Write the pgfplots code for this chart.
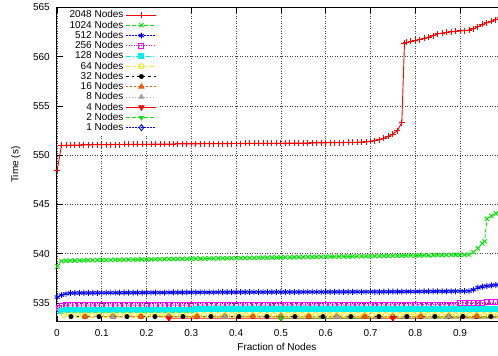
\documentclass[border=0pt]{standalone}
\usepackage{pgfplots}
\usepackage{pgfplotstable}
\pgfplotsset{compat=1.18}
\usepackage{fontspec}
\setmainfont{Liberation Sans}
\definecolor{gpred}{RGB}{255,0,0}
\definecolor{gpgreen}{RGB}{0,230,0}
\definecolor{gpblue}{RGB}{0,0,255}
\definecolor{gpmag}{RGB}{255,0,255}
\definecolor{gpcyan}{RGB}{0,240,240}
\definecolor{gpyellow}{RGB}{235,235,0}
\definecolor{gporange}{RGB}{255,90,0}
\definecolor{gpgray}{RGB}{160,160,160}

\pgfplotstableread[row sep=\\]{x y\\
0.0005 548.5\\ 0.01 551.00\\ 0.02 551.01\\ 0.03 551.02\\ 0.04 551.03\\ 0.05 551.04\\ 0.06 551.05\\ 0.07 551.05\\ 0.08 551.06\\ 0.09 551.07\\
0.10 551.07\\ 0.11 551.08\\ 0.12 551.08\\ 0.13 551.09\\ 0.14 551.09\\ 0.15 551.10\\ 0.16 551.10\\ 0.17 551.11\\ 0.18 551.11\\ 0.19 551.12\\
0.20 551.12\\ 0.21 551.12\\ 0.22 551.13\\ 0.23 551.13\\ 0.24 551.14\\ 0.25 551.14\\ 0.26 551.14\\ 0.27 551.15\\ 0.28 551.15\\ 0.29 551.15\\
0.30 551.16\\ 0.31 551.16\\ 0.32 551.16\\ 0.33 551.17\\ 0.34 551.17\\ 0.35 551.17\\ 0.36 551.18\\ 0.37 551.18\\ 0.38 551.18\\ 0.39 551.19\\
0.40 551.19\\ 0.41 551.19\\ 0.42 551.20\\ 0.43 551.20\\ 0.44 551.20\\ 0.45 551.21\\ 0.46 551.21\\ 0.47 551.21\\ 0.48 551.22\\ 0.49 551.22\\
0.50 551.22\\ 0.51 551.23\\ 0.52 551.23\\ 0.53 551.23\\ 0.54 551.24\\ 0.55 551.24\\ 0.56 551.24\\ 0.57 551.25\\ 0.58 551.25\\ 0.59 551.26\\
0.60 551.26\\ 0.61 551.27\\ 0.62 551.27\\ 0.63 551.28\\ 0.64 551.29\\ 0.65 551.30\\ 0.66 551.31\\ 0.67 551.32\\ 0.68 551.34\\ 0.69 551.36\\
0.70 551.40\\ 0.71 551.47\\ 0.72 551.58\\ 0.73 551.72\\ 0.74 551.92\\ 0.75 552.15\\ 0.76 552.50\\ 0.77 553.30\\ 0.776 561.40\\ 0.78 561.45\\
0.79 561.55\\ 0.80 561.65\\ 0.81 561.75\\ 0.82 561.88\\ 0.83 562.00\\ 0.84 562.15\\ 0.85 562.32\\ 0.86 562.40\\ 0.87 562.48\\ 0.88 562.53\\
0.89 562.58\\ 0.90 562.62\\ 0.91 562.65\\ 0.92 562.70\\ 0.93 562.85\\ 0.94 563.05\\ 0.95 563.28\\ 0.96 563.45\\ 0.97 563.60\\ 0.98 563.78\\
0.99 563.95\\ 1.00 564.10\\
}\tA

\pgfplotstableread[row sep=\\]{x y\\
0.001 538.70\\ 0.01 539.25\\ 0.02 539.28\\ 0.03 539.30\\ 0.04 539.31\\ 0.05 539.32\\ 0.06 539.33\\ 0.07 539.34\\ 0.08 539.34\\ 0.09 539.35\\
0.10 539.36\\ 0.11 539.36\\ 0.12 539.37\\ 0.13 539.38\\ 0.14 539.38\\ 0.15 539.39\\ 0.16 539.40\\ 0.17 539.40\\ 0.18 539.41\\ 0.19 539.42\\
0.20 539.42\\ 0.21 539.43\\ 0.22 539.44\\ 0.23 539.44\\ 0.24 539.45\\ 0.25 539.46\\ 0.26 539.46\\ 0.27 539.47\\ 0.28 539.48\\ 0.29 539.48\\
0.30 539.49\\ 0.31 539.50\\ 0.32 539.50\\ 0.33 539.51\\ 0.34 539.52\\ 0.35 539.52\\ 0.36 539.53\\ 0.37 539.54\\ 0.38 539.54\\ 0.39 539.55\\
0.40 539.56\\ 0.41 539.56\\ 0.42 539.57\\ 0.43 539.58\\ 0.44 539.58\\ 0.45 539.59\\ 0.46 539.60\\ 0.47 539.60\\ 0.48 539.61\\ 0.49 539.62\\
0.50 539.62\\ 0.51 539.63\\ 0.52 539.64\\ 0.53 539.64\\ 0.54 539.65\\ 0.55 539.66\\ 0.56 539.66\\ 0.57 539.67\\ 0.58 539.68\\ 0.59 539.68\\
0.60 539.69\\ 0.61 539.70\\ 0.62 539.70\\ 0.63 539.71\\ 0.64 539.72\\ 0.65 539.72\\ 0.66 539.73\\ 0.67 539.74\\ 0.68 539.74\\ 0.69 539.75\\
0.70 539.76\\ 0.71 539.76\\ 0.72 539.77\\ 0.73 539.78\\ 0.74 539.78\\ 0.75 539.79\\ 0.76 539.80\\ 0.77 539.80\\ 0.78 539.81\\ 0.79 539.82\\
0.80 539.82\\ 0.81 539.83\\ 0.82 539.84\\ 0.83 539.84\\ 0.84 539.85\\ 0.85 539.86\\ 0.86 539.86\\ 0.87 539.87\\ 0.88 539.88\\ 0.89 539.88\\
0.90 539.89\\ 0.91 539.90\\ 0.92 539.91\\ 0.93 540.15\\ 0.94 540.55\\ 0.95 541.05\\ 0.955 541.25\\ 0.96 543.55\\ 0.97 543.85\\ 0.98 544.10\\
0.99 544.25\\ 1.00 544.40\\
}\tB

\pgfplotstableread[row sep=\\]{x y\\
0.0005 535.60\\ 0.01 535.80\\ 0.02 535.93\\ 0.03 536.00\\ 0.04 536.01\\ 0.05 536.02\\ 0.06 536.02\\ 0.07 536.02\\ 0.08 536.03\\ 0.09 536.03\\
0.10 536.03\\ 0.11 536.04\\ 0.12 536.04\\ 0.13 536.04\\ 0.14 536.04\\ 0.15 536.05\\ 0.16 536.05\\ 0.17 536.05\\ 0.18 536.05\\ 0.19 536.05\\
0.20 536.06\\ 0.21 536.06\\ 0.22 536.06\\ 0.23 536.06\\ 0.24 536.06\\ 0.25 536.07\\ 0.26 536.07\\ 0.27 536.07\\ 0.28 536.07\\ 0.29 536.07\\
0.30 536.08\\ 0.31 536.08\\ 0.32 536.08\\ 0.33 536.08\\ 0.34 536.08\\ 0.35 536.08\\ 0.36 536.09\\ 0.37 536.09\\ 0.38 536.09\\ 0.39 536.09\\
0.40 536.09\\ 0.41 536.09\\ 0.42 536.10\\ 0.43 536.10\\ 0.44 536.10\\ 0.45 536.10\\ 0.46 536.10\\ 0.47 536.10\\ 0.48 536.10\\ 0.49 536.11\\
0.50 536.11\\ 0.51 536.11\\ 0.52 536.11\\ 0.53 536.11\\ 0.54 536.11\\ 0.55 536.12\\ 0.56 536.12\\ 0.57 536.12\\ 0.58 536.12\\ 0.59 536.12\\
0.60 536.12\\ 0.61 536.13\\ 0.62 536.13\\ 0.63 536.13\\ 0.64 536.13\\ 0.65 536.13\\ 0.66 536.13\\ 0.67 536.14\\ 0.68 536.14\\ 0.69 536.14\\
0.70 536.14\\ 0.71 536.14\\ 0.72 536.14\\ 0.73 536.15\\ 0.74 536.15\\ 0.75 536.15\\ 0.76 536.15\\ 0.77 536.15\\ 0.78 536.16\\ 0.79 536.16\\
0.80 536.16\\ 0.81 536.16\\ 0.82 536.17\\ 0.83 536.17\\ 0.84 536.17\\ 0.85 536.18\\ 0.86 536.18\\ 0.87 536.18\\ 0.88 536.19\\ 0.89 536.19\\
0.90 536.20\\ 0.91 536.20\\ 0.92 536.21\\ 0.93 536.35\\ 0.94 536.55\\ 0.95 536.65\\ 0.96 536.72\\ 0.97 536.78\\ 0.98 536.83\\ 0.99 536.88\\
1.00 536.93\\
}\tC

\pgfplotstableread[row sep=\\]{x y\\
0.004 534.50\\ 0.01 534.70\\ 0.02 534.76\\ 0.03 534.78\\ 0.04 534.78\\ 0.05 534.78\\ 0.06 534.78\\ 0.07 534.78\\ 0.08 534.78\\ 0.09 534.78\\
0.10 534.78\\ 0.11 534.78\\ 0.12 534.78\\ 0.13 534.79\\ 0.14 534.79\\ 0.15 534.79\\ 0.16 534.79\\ 0.17 534.79\\ 0.18 534.79\\ 0.19 534.79\\
0.20 534.79\\ 0.21 534.79\\ 0.22 534.79\\ 0.23 534.79\\ 0.24 534.79\\ 0.25 534.79\\ 0.26 534.79\\ 0.27 534.79\\ 0.28 534.79\\ 0.29 534.79\\
0.30 534.79\\ 0.31 534.80\\ 0.32 534.80\\ 0.33 534.80\\ 0.34 534.80\\ 0.35 534.80\\ 0.36 534.80\\ 0.37 534.80\\ 0.38 534.80\\ 0.39 534.80\\
0.40 534.80\\ 0.41 534.80\\ 0.42 534.80\\ 0.43 534.80\\ 0.44 534.80\\ 0.45 534.80\\ 0.46 534.80\\ 0.47 534.80\\ 0.48 534.80\\ 0.49 534.80\\
0.50 534.80\\ 0.51 534.81\\ 0.52 534.81\\ 0.53 534.81\\ 0.54 534.81\\ 0.55 534.81\\ 0.56 534.81\\ 0.57 534.81\\ 0.58 534.81\\ 0.59 534.81\\
0.60 534.81\\ 0.61 534.81\\ 0.62 534.81\\ 0.63 534.81\\ 0.64 534.81\\ 0.65 534.81\\ 0.66 534.81\\ 0.67 534.81\\ 0.68 534.81\\ 0.69 534.81\\
0.70 534.81\\ 0.71 534.82\\ 0.72 534.82\\ 0.73 534.82\\ 0.74 534.82\\ 0.75 534.82\\ 0.76 534.82\\ 0.77 534.82\\ 0.78 534.82\\ 0.79 534.82\\
0.80 534.82\\ 0.81 534.84\\ 0.82 534.84\\ 0.83 534.84\\ 0.84 534.84\\ 0.85 534.84\\ 0.86 534.84\\ 0.87 534.84\\ 0.88 534.84\\ 0.89 534.84\\
0.90 535.02\\ 0.91 535.04\\ 0.92 535.04\\ 0.93 535.04\\ 0.94 535.04\\ 0.95 535.04\\ 0.96 535.07\\ 0.97 535.07\\ 0.98 535.07\\ 0.99 535.07\\
1.00 535.07\\
}\tD

\pgfplotstableread[row sep=\\]{x y\\
0.008 534.20\\ 0.02 534.28\\ 0.03 534.33\\ 0.04 534.33\\ 0.05 534.33\\ 0.06 534.33\\ 0.07 534.33\\ 0.08 534.33\\ 0.09 534.33\\
0.10 534.33\\ 0.11 534.33\\ 0.12 534.33\\ 0.13 534.33\\ 0.14 534.33\\ 0.15 534.33\\ 0.16 534.33\\ 0.17 534.33\\ 0.18 534.33\\ 0.19 534.33\\
0.20 534.33\\ 0.21 534.33\\ 0.22 534.33\\ 0.23 534.33\\ 0.24 534.33\\ 0.25 534.33\\ 0.26 534.33\\ 0.27 534.33\\ 0.28 534.33\\ 0.29 534.33\\
0.30 534.33\\ 0.31 534.35\\ 0.32 534.35\\ 0.33 534.35\\ 0.34 534.35\\ 0.35 534.35\\ 0.36 534.35\\ 0.37 534.35\\ 0.38 534.35\\ 0.39 534.35\\
0.40 534.35\\ 0.41 534.35\\ 0.42 534.35\\ 0.43 534.35\\ 0.44 534.35\\ 0.45 534.35\\ 0.46 534.35\\ 0.47 534.35\\ 0.48 534.35\\ 0.49 534.35\\
0.50 534.35\\ 0.51 534.35\\ 0.52 534.35\\ 0.53 534.35\\ 0.54 534.35\\ 0.55 534.35\\ 0.56 534.35\\ 0.57 534.35\\ 0.58 534.35\\ 0.59 534.35\\
0.60 534.35\\ 0.61 534.37\\ 0.62 534.37\\ 0.63 534.37\\ 0.64 534.37\\ 0.65 534.37\\ 0.66 534.37\\ 0.67 534.37\\ 0.68 534.37\\ 0.69 534.37\\
0.70 534.37\\ 0.71 534.37\\ 0.72 534.37\\ 0.73 534.37\\ 0.74 534.37\\ 0.75 534.37\\ 0.76 534.37\\ 0.77 534.37\\ 0.78 534.37\\ 0.79 534.37\\
0.80 534.37\\ 0.81 534.37\\ 0.82 534.37\\ 0.83 534.37\\ 0.84 534.37\\ 0.85 534.37\\ 0.86 534.37\\ 0.87 534.37\\ 0.88 534.37\\ 0.89 534.37\\
0.90 534.37\\ 0.91 534.40\\ 0.92 534.40\\ 0.93 534.40\\ 0.94 534.40\\ 0.95 534.40\\ 0.96 534.40\\ 0.97 534.40\\ 0.98 534.40\\ 0.99 534.40\\
1.00 534.40\\
}\tE

\pgfplotstableread[row sep=\\]{x y\\
0.0156 533.78\\ 0.0313 533.78\\ 0.0469 533.78\\ 0.0625 533.78\\ 0.0781 533.78\\ 0.0938 533.78\\ 0.1094 533.78\\ 0.1250 533.78\\
0.1406 533.78\\ 0.1563 533.78\\ 0.1719 533.78\\ 0.1875 533.78\\ 0.2031 533.78\\ 0.2188 533.78\\ 0.2344 533.78\\ 0.2500 533.78\\
0.2656 533.78\\ 0.2813 533.78\\ 0.2969 533.78\\ 0.3125 533.78\\ 0.3281 533.78\\ 0.3438 533.78\\ 0.3594 533.78\\ 0.3750 533.78\\
0.3906 533.78\\ 0.4063 533.78\\ 0.4219 533.78\\ 0.4375 533.78\\ 0.4531 533.78\\ 0.4688 533.78\\ 0.4844 533.78\\ 0.5000 533.78\\
0.5156 533.79\\ 0.5313 533.79\\ 0.5469 533.79\\ 0.5625 533.79\\ 0.5781 533.79\\ 0.5938 533.79\\ 0.6094 533.79\\ 0.6250 533.79\\
0.6406 533.79\\ 0.6563 533.79\\ 0.6719 533.79\\ 0.6875 533.79\\ 0.7031 533.79\\ 0.7188 533.79\\ 0.7344 533.79\\ 0.7500 533.79\\
0.7656 533.80\\ 0.7813 533.80\\ 0.7969 533.80\\ 0.8125 533.80\\ 0.8281 533.80\\ 0.8438 533.80\\ 0.8594 533.80\\ 0.8750 533.80\\
0.8906 533.80\\ 0.9063 533.80\\ 0.9219 533.80\\ 0.9375 533.80\\ 0.9531 533.80\\ 0.9688 533.80\\ 0.9844 533.80\\ 1.0000 533.80\\
}\tF

\pgfplotstableread[row sep=\\]{x y\\
0.03125 533.62\\ 0.0625 533.62\\ 0.09375 533.62\\ 0.125 533.62\\ 0.15625 533.62\\ 0.1875 533.62\\ 0.21875 533.62\\ 0.25 533.62\\
0.28125 533.62\\ 0.3125 533.62\\ 0.34375 533.62\\ 0.375 533.62\\ 0.40625 533.62\\ 0.4375 533.62\\ 0.46875 533.62\\ 0.5 533.62\\
0.53125 533.62\\ 0.5625 533.62\\ 0.59375 533.62\\ 0.625 533.62\\ 0.65625 533.62\\ 0.6875 533.62\\ 0.71875 533.62\\ 0.75 533.62\\
0.78125 533.63\\ 0.8125 533.63\\ 0.84375 533.63\\ 0.875 533.63\\ 0.90625 533.63\\ 0.9375 533.63\\ 0.96875 533.63\\ 1.0 533.64\\
}\tG

\begin{document}
\begin{tikzpicture}
\begin{axis}[
  at={(57bp,34.3bp)}, anchor=south west,
  scale only axis, width=447.8bp, height=314.2bp,
  xmin=0, xmax=1, ymin=533.1, ymax=565,
  xtick={0,0.1,0.2,0.3,0.4,0.5,0.6,0.7,0.8,0.9,1},
  xticklabels={0,0.1,0.2,0.3,0.4,0.5,0.6,0.7,0.8,0.9,{}},
  ytick={535,540,545,550,555,560,565},
  yticklabels={535,540,545,550,555,560,565},
  grid=major,
  major grid style={black!75, line width=0.6bp, dash pattern=on 1bp off 1.5bp},
  tick align=inside, major tick length=6bp,
  tick style={black, line width=0.8bp},
  axis line style={black, line width=1bp},
  font=\fontsize{10bp}{12bp}\selectfont,
  /pgf/number format/assume math mode=true,
  xticklabel style={yshift=-4.4bp},
  yticklabel style={xshift=-3.7bp},
  xlabel={Fraction of Nodes}, ylabel={Time (s)},
  every axis x label/.style={at={(axis description cs:0.491,0)}, anchor=center, yshift=-25.3bp},
  every axis y label/.style={at={(axis description cs:-0.092,0.5)}, anchor=center, rotate=90},
  legend style={at={(0.228,1)}, anchor=north east, draw=none, fill=white,
    inner xsep=2bp, inner ysep=2.5bp, row sep=0.5bp,
    nodes={inner ysep=0.5bp, inner xsep=2.5bp},
    font=\fontsize{10bp}{12bp}\selectfont},
  legend plot pos=right, legend cell align=right,
  legend image code/.code={\draw[mark repeat=2,mark phase=2,#1] plot coordinates {(0bp,0bp) (15bp,0bp) (30bp,0bp)};},
  every axis plot/.append style={line width=0.9bp},
]
\addplot[gpred, mark=+, mark size=3bp, mark options={solid}] table {\tA};
\addlegendentry{2048 Nodes}
\addplot[gpgreen, dash pattern=on 4bp off 2bp, mark=x, mark size=3bp, mark options={solid}] table {\tB};
\addlegendentry{1024 Nodes}
\addplot[gpblue, dash pattern=on 1.5bp off 1.5bp, mark=asterisk, mark size=3bp, mark options={solid}] table {\tC};
\addlegendentry{512 Nodes}
\addplot[gpmag, dash pattern=on 1bp off 1.5bp, mark=square, mark size=2.5bp, mark options={solid}] table {\tD};
\addlegendentry{256 Nodes}
\addplot[gpcyan, dash pattern=on 5bp off 2bp on 1bp off 2bp, mark=square*, mark size=2.5bp, mark options={solid, fill=gpcyan}] table {\tE};
\addlegendentry{128 Nodes}
\addplot[gpyellow, dash pattern=on 4bp off 2bp on 1bp off 2bp on 1bp off 2bp, mark=o, mark size=2.6bp, mark options={solid}] table {\tF};
\addlegendentry{64 Nodes}
\addplot[black, dash pattern=on 2.5bp off 3bp, mark=*, mark size=2bp, mark options={solid, fill=black}] table {\tG};
\addlegendentry{32 Nodes}
\addplot[gporange, dash pattern=on 2bp off 2bp, mark=triangle*, mark size=3bp, mark options={solid, fill=gporange}] coordinates {
(0.0625,533.62) (0.125,533.62) (0.1875,533.62) (0.25,533.62) (0.3125,533.62) (0.375,533.62) (0.4375,533.62) (0.5,533.62)
(0.5625,533.62) (0.625,533.62) (0.6875,533.62) (0.75,533.62) (0.8125,533.63) (0.875,533.63) (0.9375,533.63) (1.0,533.64)};
\addlegendentry{16 Nodes}
\addplot[gpgray, dash pattern=on 1bp off 2bp, mark=triangle*, mark size=2.6bp, mark options={solid, fill=gpgray}] coordinates {
(0.125,533.60) (0.25,533.60) (0.375,533.60) (0.5,533.60) (0.625,533.60) (0.75,533.60) (0.875,533.61) (1.0,533.62)};
\addlegendentry{8 Nodes}
\addplot[gpred, mark=triangle*, mark size=3bp, mark options={solid, rotate=180, fill=gpred}] coordinates {
(0.25,533.45) (0.5,533.45) (0.75,533.46) (1.0,533.50)};
\addlegendentry{4 Nodes}
\addplot[gpgreen, dash pattern=on 4bp off 2bp, mark=triangle*, mark size=2.4bp, mark options={solid, rotate=180, fill=gpgreen}] coordinates {
(0.5,533.45) (1.0,533.50)};
\addlegendentry{2 Nodes}
\addplot[gpblue, dash pattern=on 1.5bp off 1.5bp, mark=diamond, mark size=3bp, mark options={solid}] coordinates {
(1.0,533.50)};
\addlegendentry{1 Nodes}
\end{axis}
\pgfresetboundingbox
\path[use as bounding box] (0bp,0bp) rectangle (498bp,356bp);
\end{tikzpicture}
\end{document}
